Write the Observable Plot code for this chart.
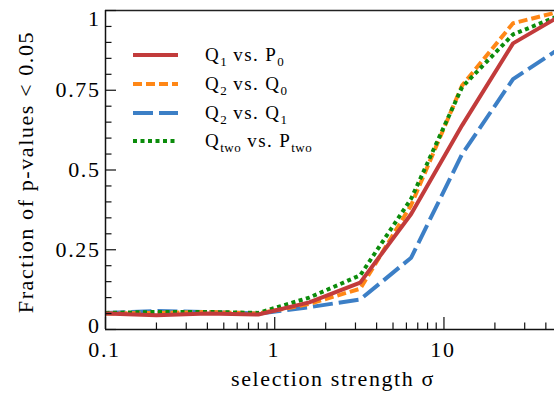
<!DOCTYPE html>
<html>
<head>
<meta charset="utf-8">
<script src="https://cdn.jsdelivr.net/npm/d3@7"></script>
<script src="https://cdn.jsdelivr.net/npm/@observablehq/plot@0.6"></script>
<style>
  body { margin: 0; background: #fff; }
  #wrap { position: relative; width: 554px; height: 401px; overflow: hidden; font-family: "Liberation Serif", "DejaVu Serif", serif; }
  #legend { position: absolute; left: 133px; top: 41px; font-size: 19px; letter-spacing: 1.4px; color: #000; font-family: "Liberation Serif", "DejaVu Serif", serif; }
  .row { display: flex; align-items: center; height: 28.7px; }
  .row svg { width: 45px; height: 8px; margin-right: 27px; flex: none; }
  sub { font-size: 13px; vertical-align: -5px; line-height: 0; letter-spacing: 0.5px; }
  #chart svg text { font-family: "Liberation Serif", "DejaVu Serif", serif; }
</style>
</head>
<body>
<div id="wrap">
  <div id="chart"></div>
  <div id="legend"></div>
</div>
<script>
// ---- data ----
const sigma = [0.1, 0.2, 0.4, 0.8, 1.6, 3.2, 6.4, 12.8, 25.6, 51.2];
const q1VsP0 = [0.050, 0.045, 0.050, 0.047, 0.085, 0.147, 0.362, 0.640, 0.897, 0.990];
const q2VsQ0 = [0.050, 0.052, 0.055, 0.050, 0.080, 0.128, 0.390, 0.765, 0.960, 1.000];
const q2VsQ1 = [0.052, 0.058, 0.055, 0.050, 0.070, 0.094, 0.225, 0.550, 0.785, 0.890];
const qTwoVsPTwo = [0.052, 0.055, 0.055, 0.052, 0.100, 0.170, 0.410, 0.760, 0.925, 0.990];

const seriesLabels = [
  "Q<sub>1</sub> vs. P<sub>0</sub>",
  "Q<sub>2</sub> vs. Q<sub>0</sub>",
  "Q<sub>2</sub> vs. Q<sub>1</sub>",
  "Q<sub>two</sub> vs. P<sub>two</sub>"
];
const seriesColors = ["#c23b3b", "#ff8716", "#3c7fc6", "#0b8c0b"];
const seriesDash = [null, "9,4", "20,6", "4,3.5"];

const yMajor = [0, 0.25, 0.5, 0.75, 1];
const yTickLabels = ["0", "0.25", "0.5", "0.75", "1"];
const yMinor = [0.05, 0.1, 0.15, 0.2, 0.3, 0.35, 0.4, 0.45, 0.55, 0.6, 0.65, 0.7, 0.8, 0.85, 0.9, 0.95];
const xMajor = [0.1, 1, 10];
const xTickLabels = ["0.1", "1", "10"];
const xMinor = [0.2, 0.3, 0.4, 0.5, 0.6, 0.7, 0.8, 0.9, 2, 3, 4, 5, 6, 7, 8, 9, 20, 30, 40];
const xLabel = "selection strength σ";
const yLabel = "Fraction of p-values < 0.05";

// ---- build table ----
const allSeries = [q1VsP0, q2VsQ0, q2VsQ1, qTwoVsPTwo];
const rows = allSeries.map((vals, s) => sigma.map((x, i) => ({x, y: vals[i], s})));

const W = 554, H = 401;
const mL = 105, mR = 0, mT = 10, mB = 72;
const fw = W - mL - mR, fh = H - mT - mB;

const lineMark = (s) => Plot.line(rows[s], {
  x: "x", y: "y", stroke: seriesColors[s], strokeWidth: 4,
  strokeDasharray: seriesDash[s], strokeLinecap: "butt", strokeLinejoin: "miter", clip: true
});

const chart = Plot.plot({
  width: W, height: H,
  marginLeft: mL, marginRight: mR, marginTop: mT, marginBottom: mB,
  style: {fontFamily: "'Liberation Serif', 'DejaVu Serif', serif", letterSpacing: "1.6px", background: "#fff", color: "#000"},
  x: {type: "log", domain: [0.1, 45], axis: null},
  y: {domain: [0, 1], axis: null},
  marks: [
    lineMark(2), lineMark(1), lineMark(3), lineMark(0),
    // frame lines
    Plot.ruleY([1], {stroke: "#222", strokeWidth: 1.5}),
    Plot.ruleY([0], {stroke: "#111", strokeWidth: 1.5}),
    Plot.ruleX([0.1], {stroke: "#111", strokeWidth: 1.5}),
    // inward ticks
    Plot.tickY(yMajor, {y: d => d, insetRight: fw - 11, stroke: "#111", strokeWidth: 1.2}),
    Plot.tickY(yMinor, {y: d => d, insetRight: fw - 6.5, stroke: "#111", strokeWidth: 1.2}),
    Plot.tickX(xMajor, {x: d => d, insetTop: fh - 12, stroke: "#111", strokeWidth: 1.2}),
    Plot.tickX(xMinor, {x: d => d, insetTop: fh - 6.5, stroke: "#111", strokeWidth: 1.2}),
    // tick labels
    Plot.text(yMajor.slice(1, 4), {y: d => d, text: (d, i) => yTickLabels[i + 1], frameAnchor: "left", textAnchor: "end", dx: -5, dy: 0, fontSize: 22, fill: "#000"}),
    Plot.text(yMajor.slice(0, 1), {y: d => d, text: () => yTickLabels[0], frameAnchor: "left", textAnchor: "end", dx: -5, dy: -4, fontSize: 22, fill: "#000"}),
    Plot.text(yMajor.slice(4), {y: d => d, text: () => yTickLabels[4], frameAnchor: "left", textAnchor: "end", dx: -5, dy: 8, fontSize: 22, fill: "#000"}),
    Plot.text(xMajor, {x: d => d, text: (d, i) => xTickLabels[i], frameAnchor: "bottom", dx: -1, dy: 27, fontSize: 22, fill: "#000"}),
    // axis titles
    Plot.text([xLabel], {text: d => d, frameAnchor: "bottom", dx: 3, dy: 56, fontSize: 22, fill: "#000"}),
    Plot.text([yLabel], {text: d => d, frameAnchor: "left", textAnchor: "middle", dx: -80, dy: 2, rotate: -90, fontSize: 22, fill: "#000"})
  ]
});
document.getElementById("chart").appendChild(chart);

// ---- legend ----
const legend = document.getElementById("legend");
seriesLabels.forEach((lab, s) => {
  const row = document.createElement("div");
  row.className = "row";
  const dash = seriesDash[s] ? `stroke-dasharray="${seriesDash[s]}"` : "";
  row.innerHTML = `<svg viewBox="0 0 45 8"><line x1="0" x2="45" y1="4" y2="4" stroke="${seriesColors[s]}" stroke-width="4" ${dash}/></svg><span>${lab}</span>`;
  legend.appendChild(row);
});
</script>
</body>
</html>
